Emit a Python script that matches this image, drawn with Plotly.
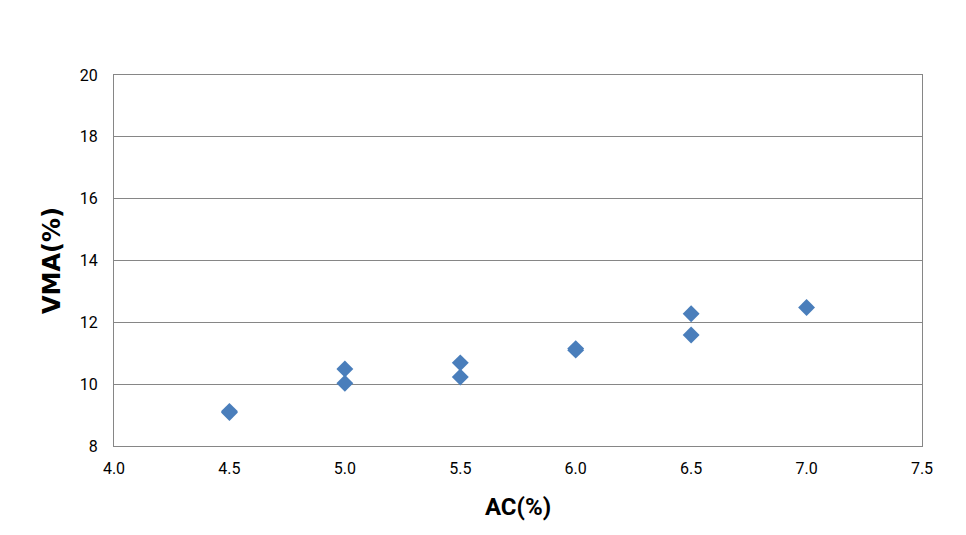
import plotly.graph_objects as go

ac = [4.5, 4.5, 5.0, 5.0, 5.5, 5.5, 6.0, 6.0, 6.5, 6.5, 7.0]
vma = [9.08, 9.12, 10.49, 10.03, 10.69, 10.23, 11.10, 11.15, 12.28, 11.59, 12.48]
x_ticks = [4.0, 4.5, 5.0, 5.5, 6.0, 6.5, 7.0, 7.5]
y_ticks = [8, 10, 12, 14, 16, 18, 20]

fig = go.Figure(go.Scatter(
    x=ac, y=vma, mode="markers",
    marker=dict(symbol="diamond", size=13, color="#4A7EBB",
                line=dict(width=0)),
))

font_fam = "Liberation Sans Narrow, Roboto, sans-serif"
fig.update_layout(
    width=966, height=535,
    margin=dict(l=106, r=52, t=67, b=97),
    paper_bgcolor="white", plot_bgcolor="white",
    showlegend=False,
    font=dict(family=font_fam, size=16, color="#000000"),
    xaxis=dict(
        range=[4.0, 7.5], tickvals=x_ticks,
        ticktext=[f"{v:.1f}" for v in x_ticks],
        showgrid=False, zeroline=False,
        showline=True, linecolor="#868686", linewidth=1, mirror=True,
        ticks="", tickfont=dict(size=16), ticklabelstandoff=8,
        title=dict(text="<b>AC(%)</b>", font=dict(size=24, family=font_fam), standoff=20),
    ),
    yaxis=dict(
        range=[8, 20], tickvals=y_ticks,
        showgrid=True, gridcolor="#868686", gridwidth=1, zeroline=False,
        showline=True, linecolor="#868686", linewidth=1, mirror=True,
        ticks="", tickfont=dict(size=16), ticklabelstandoff=12,
        title=dict(text="<b>VMA(%)</b>", font=dict(size=24, family="DejaVu Sans, sans-serif"), standoff=12),
    ),
)

fig.write_html("out.html")
